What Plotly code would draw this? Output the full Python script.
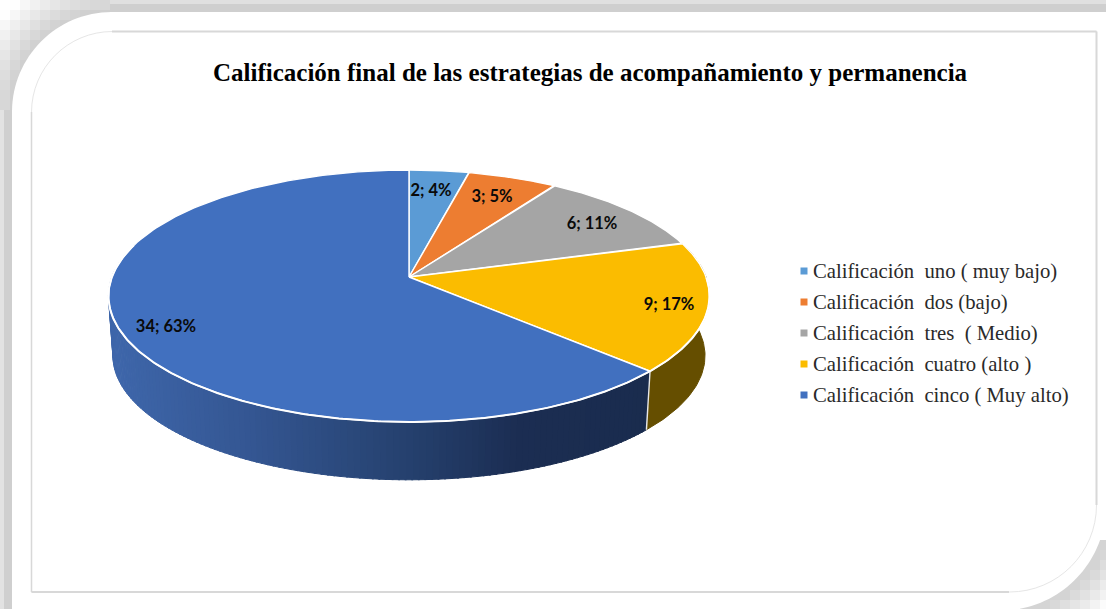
import numpy as np
import plotly.graph_objects as go

TITLE = "Calificación final de las estrategias de acompañamiento y permanencia"
CATEGORIES = ["Calificación\u00a0 uno ( muy bajo)", "Calificación\u00a0 dos (bajo)",
              "Calificación\u00a0 tres\u00a0 ( Medio)", "Calificación\u00a0 cuatro (alto )",
              "Calificación\u00a0 cinco ( Muy alto)"]
VALUES = [2, 3, 6, 9, 34]
PERCENTS = [4, 5, 11, 17, 63]
COLORS = ["#5B9BD5", "#ED7D31", "#A5A5A5", "#FBBC00", "#4170BF"]

W, H = 1106, 609
# perspective projection of the pie disc, in page pixels
CX, CY, RX, RY, K = 409.0, 277.0, 297.1, 123.1, -0.1508
BOTTOM_CY, BOTTOM_SCALE = 337.0, 0.985
LABEL_POS = [(431, 192), (492, 198), (592, 225), (669, 306), (166, 328)]
LEGEND_X, LEGEND_Y0, LEGEND_DY = 804, 271, 31


def rim(theta, cy=CY, s=1.0):
    u, v = np.sin(theta), -np.cos(theta)
    d = 1 + K * v
    return CX + s * RX * u / d, cy + s * RY * v / d


def css(c):
    return "rgb(%d,%d,%d)" % tuple(int(round(x)) for x in c)


fractions = np.cumsum([0] + VALUES) / sum(VALUES) * 2 * np.pi
shapes = []


def rect(x0, y0, x1, y1, color):
    shapes.append(dict(type="rect", x0=x0, y0=y0, x1=x1, y1=y1, fillcolor=color,
                       line_width=0, layer="below"))


# page bevel
rect(0, 0, W, 4, "#e0e0e0")
rect(0, 4, W, 12, "#cfcfcf")
rect(0, 0, 4, H, "#e2e2e2")
rect(4, 4, 12, H, "#cfcfcf")
for i in range(0, 110, 10):
    for j in range(0, 110, 10):
        d = np.hypot(112 - i - 5, 112 - j - 5)
        t = min(1, max(0, (d - 100) / 45))
        g = 207 + 48 * t
        rect(i, j, i + 10, j + 10, css((g, g, g)))
for i in range(1020, W, 10):
    for j in range(540, H, 10):
        d = np.hypot(i + 5 - 1009, j + 5 - 505)
        t = min(1, max(0, (d - 105.6) / 36))
        g = 212 + 42 * t
        rect(i, j, i + 10, j + 10, css((g, g, g)))


def corner_path(x0, y0, x1, y1, r_tl, r_br):
    k = 0.5523
    return (f"M{x0},{y0 + r_tl} C{x0},{y0 + r_tl - k * r_tl} {x0 + r_tl - k * r_tl},{y0} {x0 + r_tl},{y0} "
            f"L{x1},{y0} L{x1},{y1 - r_br} "
            f"C{x1},{y1 - r_br + k * r_br} {x1 - r_br + k * r_br},{y1} {x1 - r_br},{y1} "
            f"L{x0},{y1} Z")


shapes.append(dict(type="path", path=corner_path(12, 12, W, 610.6, 100, 105.6),
                   fillcolor="#ffffff", line_width=0, layer="below"))
shapes.append(dict(type="path", path=corner_path(31.5, 31.5, 1096.5, 592, 81, 87),
                   fillcolor="#ffffff", line=dict(color="#e6e6e6", width=1), layer="below"))
for (x0, y0, x1, y1, w) in [(112, 31.5, 1096.5, 31.5, 2), (1096.5, 31.5, 1096.5, 505, 2),
                            (31.5, 592, 1009, 592, 2), (31.5, 112, 31.5, 592, 1.5)]:
    shapes.append(dict(type="line", x0=x0, y0=y0, x1=x1, y1=y1,
                       line=dict(color="#d8d8d8", width=w), layer="below"))

fig = go.Figure()


def poly(xs, ys, fill, line=None, width=1.0):
    fig.add_trace(go.Scatter(x=xs, y=ys, mode="lines", fill="toself", fillcolor=fill,
                             line=dict(color=line or fill, width=width), hoverinfo="skip",
                             showlegend=False))


def side(t0, t1, color):
    th = np.linspace(t0, t1, max(2, int((t1 - t0) * 60)))
    xt, yt = rim(th)
    xb, yb = rim(th, BOTTOM_CY, BOTTOM_SCALE)
    poly(np.r_[xt, xb[::-1]], np.r_[yt, yb[::-1]], color)


# side wall: yellow slice, then the blue slice in shaded strips
side(fractions[3], fractions[4], "#654E00")
STOPS_X = [115, 250, 400, 520, 650]
STOPS_C = [(62, 102, 170), (52, 86, 146), (38, 66, 112), (27, 45, 82), (26, 44, 78)]
edges = np.linspace(fractions[4], fractions[5] - 1.3, 140)
for a, b in zip(edges[:-1], edges[1:]):
    xm = rim((a + b) / 2)[0]
    c = tuple(np.interp(xm, STOPS_X, [s[i] for s in STOPS_C]) for i in range(3))
    side(a, b + 0.005, css(c))
# white seam between side walls
xa, ya = rim(fractions[4])
xb_, yb_ = rim(fractions[4], BOTTOM_CY, BOTTOM_SCALE)
fig.add_trace(go.Scatter(x=[xa, xb_], y=[ya, yb_], mode="lines", line=dict(color="#e8e8e8", width=1.4),
                         hoverinfo="skip", showlegend=False))

# top face
for i, name in enumerate(CATEGORIES):
    th = np.linspace(fractions[i], fractions[i + 1], 200)
    x, y = rim(th)
    poly(np.r_[CX, x, CX], np.r_[CY, y, CY], COLORS[i], "#ffffff", 1.4)
# brighter front rim over the side wall
th = np.linspace(fractions[3] + 0.3, fractions[5] - 1.3, 300)
x, y = rim(th)
fig.add_trace(go.Scatter(x=x, y=y, mode="lines", line=dict(color="#ffffff", width=2),
                         hoverinfo="skip", showlegend=False))

# data labels
fig.add_trace(go.Scatter(x=[p[0] for p in LABEL_POS], y=[p[1] for p in LABEL_POS], mode="text",
                         text=[f"{v}; {p}%" for v, p in zip(VALUES, PERCENTS)],
                         textfont=dict(family="Lato", size=16.5, color="#0a0a0a", weight="bold"),
                         textposition="middle center", hoverinfo="skip", showlegend=False))

# legend
fig.add_trace(go.Scatter(x=[LEGEND_X] * 5, y=[LEGEND_Y0 + i * LEGEND_DY for i in range(5)],
                         mode="markers", marker=dict(symbol="square", size=7, color=COLORS),
                         hoverinfo="skip", showlegend=False))
annotations = [dict(x=811, y=LEGEND_Y0 + i * LEGEND_DY, text=c, xanchor="left", yanchor="middle",
                    showarrow=False, xref="x", yref="y",
                    font=dict(family="Liberation Serif", size=20.7, color="#2a2a2a"))
               for i, c in enumerate(CATEGORIES)]
annotations.append(dict(x=590.5, y=72, text="<b>" + TITLE + "</b>",
                        xanchor="center", yanchor="middle", showarrow=False, xref="x", yref="y",
                        font=dict(family="Liberation Serif", size=25, color="#000000")))

fig.update_layout(width=W, height=H, margin=dict(l=0, r=0, t=0, b=0), paper_bgcolor="#ffffff",
                  plot_bgcolor="rgba(0,0,0,0)", showlegend=False, shapes=shapes, annotations=annotations,
                  xaxis=dict(range=[0, W], visible=False, fixedrange=True),
                  yaxis=dict(range=[H, 0], visible=False, fixedrange=True))
fig.write_html("out.html", config=dict(displayModeBar=False),
               post_script="document.body.style.margin='0';document.body.style.overflow='hidden';")
